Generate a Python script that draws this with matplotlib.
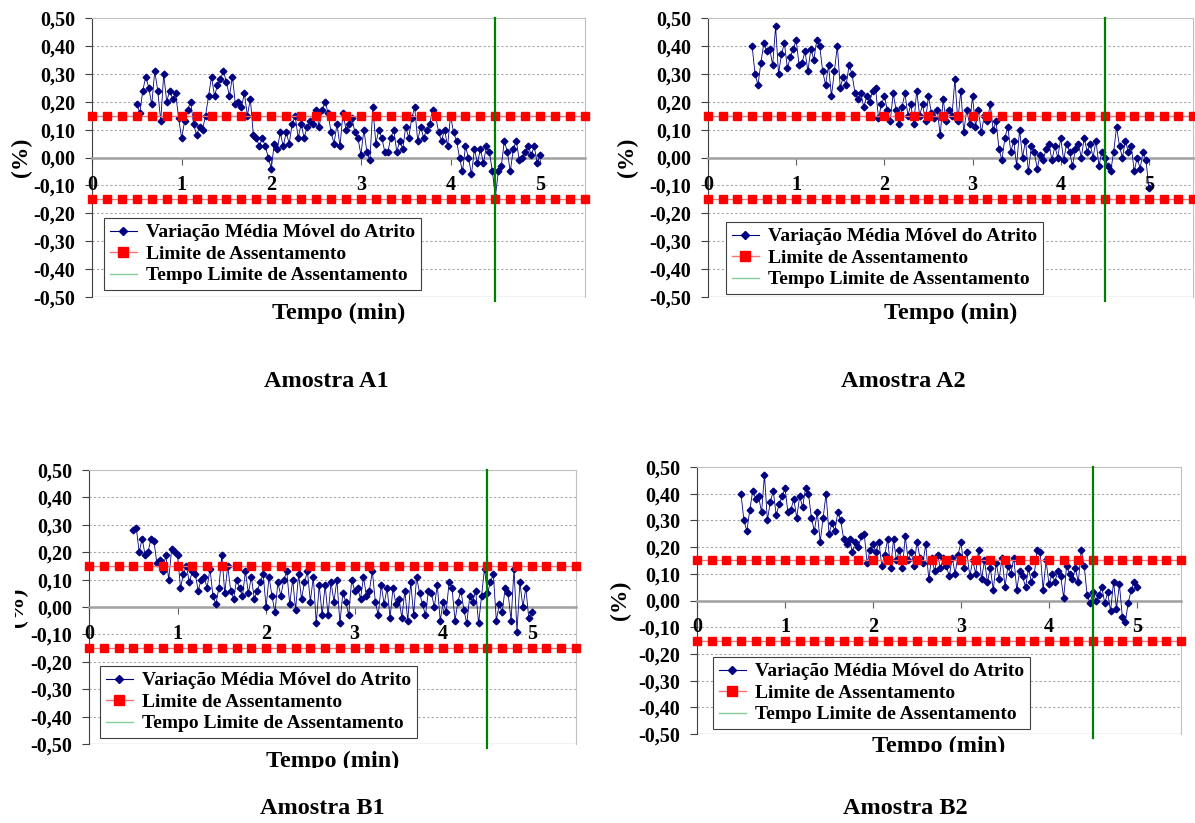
import matplotlib
matplotlib.use('Agg')
import matplotlib.pyplot as plt
from matplotlib.lines import Line2D
from matplotlib.transforms import Bbox, TransformedBbox
import numpy as np

W, H = 1195, 823

# moving-average friction variation (%), one reading every 2 s from 0.5 min
t_start = 0.5
t_step = 1 / 30
a1 = [0.19, 0.16, 0.24, 0.29, 0.25, 0.19, 0.31, 0.24, 0.13, 0.30,
      0.20, 0.24, 0.21, 0.23, 0.14, 0.07, 0.13, 0.17, 0.20, 0.12,
      0.08, 0.11, 0.10, 0.15, 0.22, 0.29, 0.22, 0.26, 0.28, 0.31,
      0.27, 0.22, 0.29, 0.19, 0.20, 0.18, 0.23, 0.15, 0.21, 0.08,
      0.07, 0.04, 0.07, 0.04, 0.00, -0.04, 0.05, 0.03, 0.09, 0.04,
      0.09, 0.05, 0.12, 0.15, 0.07, 0.12, 0.07, 0.11, 0.13, 0.12,
      0.17, 0.11, 0.17, 0.20, 0.16, 0.09, 0.05, 0.12, 0.04, 0.16,
      0.10, 0.12, 0.14, 0.09, 0.07, 0.01, 0.10, 0.02, -0.01, 0.18,
      0.05, 0.10, 0.07, 0.02, 0.02, 0.07, 0.10, 0.02, 0.06, 0.03,
      0.11, 0.07, 0.14, 0.18, 0.06, 0.11, 0.07, 0.10, 0.12, 0.17,
      0.15, 0.09, 0.06, 0.10, 0.04, 0.15, 0.09, 0.06, 0.00, -0.05,
      0.04, 0.00, -0.06, 0.03, -0.02, 0.03, -0.02, 0.04, 0.02, -0.05,
      -0.14, -0.05, -0.03, 0.06, 0.02, -0.05, 0.03, 0.06, -0.01, 0.00,
      0.02, 0.04, 0.01, 0.04, -0.02, 0.01]
a2 = [0.40, 0.30, 0.26, 0.34, 0.41, 0.38, 0.39, 0.33, 0.47, 0.30,
      0.37, 0.41, 0.32, 0.36, 0.39, 0.42, 0.33, 0.34, 0.38, 0.31,
      0.39, 0.35, 0.42, 0.40, 0.31, 0.26, 0.33, 0.22, 0.31, 0.40,
      0.25, 0.29, 0.26, 0.33, 0.30, 0.23, 0.21, 0.23, 0.18, 0.22,
      0.20, 0.24, 0.25, 0.14, 0.19, 0.22, 0.17, 0.13, 0.23, 0.17,
      0.12, 0.18, 0.23, 0.15, 0.19, 0.12, 0.24, 0.15, 0.19, 0.13,
      0.22, 0.16, 0.14, 0.17, 0.08, 0.21, 0.13, 0.17, 0.15, 0.28,
      0.13, 0.24, 0.09, 0.17, 0.12, 0.22, 0.11, 0.17, 0.09, 0.15,
      0.13, 0.19, 0.10, 0.13, 0.03, -0.01, 0.07, 0.11, 0.02, 0.06,
      -0.03, 0.10, 0.00, 0.06, -0.05, 0.04, 0.02, -0.04, 0.01, -0.01,
      0.03, 0.05, -0.01, 0.04, 0.00, 0.07, -0.01, 0.05, 0.02, -0.03,
      0.03, 0.05, 0.00, 0.07, 0.02, 0.05, 0.00, 0.06, -0.03, 0.02,
      0.00, -0.03, -0.05, 0.02, 0.11, 0.04, 0.00, 0.06, 0.02, 0.04,
      -0.05, 0.00, -0.04, 0.02, -0.01, -0.11]
b1 = [0.28, 0.29, 0.20, 0.25, 0.19, 0.20, 0.25, 0.24, 0.16, 0.17,
      0.13, 0.19, 0.10, 0.21, 0.20, 0.19, 0.07, 0.12, 0.15, 0.09,
      0.13, 0.12, 0.06, 0.10, 0.11, 0.07, 0.14, 0.04, 0.01, 0.07,
      0.19, 0.05, 0.15, 0.06, 0.03, 0.10, 0.07, 0.04, 0.13, 0.05,
      0.11, 0.03, 0.06, 0.09, 0.12, 0.00, 0.11, 0.04, -0.02, 0.09,
      0.04, 0.10, 0.13, 0.01, 0.10, -0.01, 0.12, 0.03, 0.09, 0.13,
      0.02, 0.11, -0.06, 0.08, -0.03, 0.08, -0.03, 0.09, 0.02, 0.10,
      -0.06, 0.05, 0.02, -0.03, 0.10, 0.06, 0.07, 0.03, 0.11, 0.04,
      0.06, 0.13, 0.02, -0.03, 0.08, 0.01, 0.07, -0.04, 0.07, 0.01,
      0.03, -0.04, 0.06, -0.05, 0.09, -0.03, 0.11, 0.05, 0.01, -0.03,
      0.06, 0.05, 0.00, 0.08, -0.05, 0.02, -0.02, 0.09, 0.07, -0.05,
      0.02, 0.06, -0.01, -0.06, 0.04, 0.02, 0.06, -0.06, 0.04, 0.14,
      0.05, 0.09, 0.12, -0.05, 0.01, -0.02, 0.07, 0.05, -0.05, 0.14,
      -0.09, 0.09, 0.00, 0.07, -0.04, -0.02]
b2 = [0.40, 0.30, 0.26, 0.34, 0.41, 0.38, 0.39, 0.33, 0.47, 0.30,
      0.37, 0.41, 0.32, 0.36, 0.39, 0.42, 0.33, 0.34, 0.38, 0.31,
      0.39, 0.35, 0.42, 0.40, 0.31, 0.26, 0.33, 0.22, 0.31, 0.40,
      0.25, 0.29, 0.26, 0.33, 0.30, 0.23, 0.21, 0.23, 0.18, 0.22,
      0.20, 0.24, 0.25, 0.14, 0.19, 0.21, 0.18, 0.22, 0.13, 0.17,
      0.23, 0.12, 0.23, 0.15, 0.19, 0.12, 0.24, 0.15, 0.18, 0.13,
      0.22, 0.16, 0.14, 0.21, 0.08, 0.16, 0.11, 0.17, 0.12, 0.16,
      0.13, 0.09, 0.16, 0.10, 0.17, 0.22, 0.12, 0.18, 0.09, 0.15,
      0.10, 0.19, 0.08, 0.15, 0.07, 0.12, 0.04, 0.14, 0.08, 0.16,
      0.05, 0.13, 0.10, 0.16, 0.04, 0.11, 0.09, 0.05, 0.12, 0.07,
      0.10, 0.19, 0.18, 0.04, 0.15, 0.06, 0.10, 0.07, 0.11, 0.09,
      0.01, 0.13, 0.10, 0.08, 0.12, 0.07, 0.19, 0.13, 0.02, -0.01,
      0.03, 0.00, 0.02, 0.05, -0.01, 0.03, -0.04, 0.07, -0.03, 0.06,
      -0.06, -0.08, -0.01, 0.04, 0.07, 0.05]

limite = 0.15            # settling limit (%)
limite_step = 1 / 6      # limit series sampled every 10 s
limite_end = 5.5
tempo_limite = 4.5       # settling time limit (min)

y_ticks = [0.5, 0.4, 0.3, 0.2, 0.1, 0.0, -0.1, -0.2, -0.3, -0.4, -0.5]
x_ticks = [0, 1, 2, 3, 4, 5]
legend_labels = ['Variação Média Móvel do Atrito', 'Limite de Assentamento',
                 'Tempo Limite de Assentamento']

plt.rcParams['font.family'] = ['Liberation Serif', 'DejaVu Serif']
plt.rcParams['font.weight'] = 'bold'

fig = plt.figure(figsize=(W / 100, H / 100), dpi=100)


def fx(x):
    return x / W


def fy(y):
    return 1 - y / H


def panel(title, data, box, leg_xy, ylab_x, xlab_y, title_xy, clip=None):
    x0, y0, x1, y1 = box
    ax = fig.add_axes([fx(x0), fy(y1), fx(x1 - x0), (y1 - y0) / H])
    ax.set_xlim(0, 5.5)
    ax.set_ylim(-0.5, 0.5)

    # grid and frame
    for v in y_ticks:
        if 0 < abs(v) < 0.5:
            ax.axhline(v, color='#a8a8a8', lw=0.8, ls=(0, (2, 2)), zorder=0)
    ax.axhline(-0.5, color='#c0c0c0', lw=1.0, zorder=0)
    for s in ('top', 'right'):
        ax.spines[s].set_color('#c0c0c0')
    ax.spines['left'].set_color('#404040')
    ax.spines['bottom'].set_position(('data', 0))
    ax.spines['bottom'].set_color('#a0a0a0')
    ax.spines['bottom'].set_linewidth(1.8)

    ax.set_yticks(y_ticks)
    ax.set_yticklabels([('%.2f' % v).replace('.', ',') for v in y_ticks],
                       fontsize=14.5, fontweight='bold')
    ax.tick_params(axis='y', direction='out', length=5, color='#404040', pad=7)
    ax.set_xticks(x_ticks)
    ax.tick_params(axis='x', direction='out', length=5, color='#606060',
                   labelbottom=False)
    for v in x_ticks:
        ax.text(v, -0.1, str(v), ha='center', va='center', fontsize=14.5,
                fontweight='bold', zorder=6)

    t = t_start + np.arange(len(data)) * t_step
    ax.plot(t, data, color='#000080', lw=0.6, marker='D', ms=3.4, zorder=3)

    lx = np.arange(0, limite_end + 1e-9, limite_step)
    for s in (1, -1):
        ax.plot(lx, np.full_like(lx, s * limite), color='#ff7070', lw=1.0,
                marker='s', ms=6, mfc='#ff0000', mec='#ff0000', zorder=4,
                clip_on=False)
    ax.axvline(tempo_limite, ymin=-0.015, ymax=1, color='#008000', lw=1.6,
               zorder=5, clip_on=False)

    handles = [
        Line2D([], [], color='#000080', lw=0.8, marker='D', ms=3.6),
        Line2D([], [], color='#ff7070', lw=1.0, marker='s', ms=6.5,
               mfc='#ff0000', mec='#ff0000'),
        Line2D([], [], color='#88cc99', lw=1.0),
    ]
    leg = fig.legend(handles, legend_labels, loc='upper left',
                     bbox_to_anchor=(fx(leg_xy[0]), fy(leg_xy[1])),
                     borderaxespad=0, fancybox=False, framealpha=1,
                     edgecolor='#404040', prop=dict(size=14, weight='bold'),
                     handlelength=1.4, handletextpad=0.45, labelspacing=0.2,
                     borderpad=0.3)
    leg.get_frame().set_linewidth(0.8)

    texts = [
        fig.text(fx(ylab_x), fy((y0 + y1) / 2), '(%)', rotation=90,
                 ha='center', va='center', fontsize=17, fontweight='bold'),
        fig.text(fx((x0 + x1) / 2), fy(xlab_y), 'Tempo (min)', ha='center',
                 va='center', fontsize=17.5, fontweight='bold'),
    ]
    if clip is not None:
        cb = TransformedBbox(Bbox.from_extents(fx(clip[0]), fy(clip[3]),
                                               fx(clip[2]), fy(clip[1])),
                             fig.transFigure)
        for tx in texts:
            tx.set_clip_box(cb)
            tx.set_clip_on(True)

    fig.text(fx(title_xy[0]), fy(title_xy[1]), title, ha='center',
             va='center', fontsize=17.5, fontweight='bold')


panel('Amostra A1', a1, (92, 18, 585, 297), (104, 218), 21, 313, (326, 381))
panel('Amostra A2', a2, (708, 18, 1193, 297), (726, 222), 627, 313, (903, 381))
panel('Amostra B1', b1, (89, 470, 576, 744), (100, 666), 17, 761, (322, 808),
      clip=(15, 455, 600, 768))
panel('Amostra B2', b2, (697, 467, 1181, 734), (713, 657), 620, 746, (905, 808),
      clip=(600, 455, 1195, 752))

fig.savefig('out.png', dpi=100)
